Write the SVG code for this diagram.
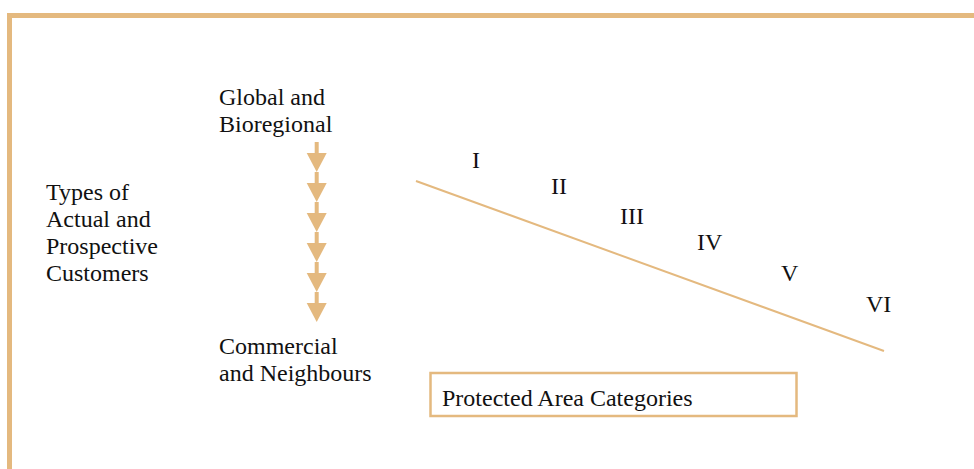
<svg xmlns="http://www.w3.org/2000/svg" width="974" height="469" viewBox="0 0 974 469">
<style>
.t{font-family:"Liberation Serif","Times New Roman",serif;font-size:24px;fill:#111}
.tan{fill:#E4B97F}
</style>
<defs>
<g id="arr"><rect x="314.7" y="0" width="4" height="12" class="tan"/><polygon points="306.7,11 326.7,11 316.7,30" class="tan"/></g>
</defs>
<rect width="974" height="469" fill="#fff"/>
<g id="frame"><path d="M9.5,469 V15.5 H974" fill="none" stroke="#E4B97F" stroke-width="5"/></g>
<g id="customers"><text class="t" x="46" y="200">Types of</text><text class="t" x="46" y="227">Actual and</text><text class="t" x="46" y="254">Prospective</text><text class="t" x="46" y="281">Customers</text></g>
<g id="global"><text class="t" x="219" y="105">Global and</text><text class="t" x="219" y="132">Bioregional</text></g>
<g id="commercial"><text class="t" x="219" y="354">Commercial</text><text class="t" x="219" y="381">and Neighbours</text></g>
<g id="connectors">
<use href="#arr" y="142"/><use href="#arr" y="172"/><use href="#arr" y="202"/><use href="#arr" y="232"/><use href="#arr" y="262"/><use href="#arr" y="292"/>
<line x1="416" y1="181" x2="884" y2="351" stroke="#E4B97F" stroke-width="2"/>
</g>
<g id="numerals">
<text class="t" x="472" y="168">I</text><text class="t" x="551" y="194">II</text><text class="t" x="620" y="224">III</text><text class="t" x="697" y="250">IV</text><text class="t" x="781" y="281">V</text><text class="t" x="866" y="312">VI</text>
</g>
<g id="categories"><rect x="430.5" y="373" width="366" height="43" fill="#fff" stroke="#E4B97F" stroke-width="2.5"/><text class="t" x="442" y="406">Protected Area Categories</text></g>
</svg>
